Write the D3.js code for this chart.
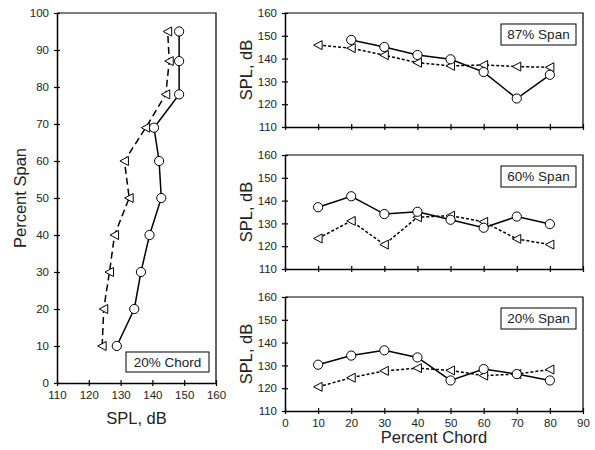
<!DOCTYPE html>
<html>
<head>
<meta charset="utf-8">
<script src="https://cdn.jsdelivr.net/npm/d3@7"></script>
<style>
  body { margin: 0; background: #fff; }
  svg text { font-family: "Liberation Sans", Arial, Helvetica, sans-serif; fill: #222; }
</style>
</head>
<body>
<div id="chart"></div>
<script>
// left panel: SPL vs percent span at 20% chord
const spanLevels = [10, 20, 30, 40, 50, 60, 69, 78, 87, 95];
const chordCircle = [128.8, 134.3, 136.4, 139.1, 142.8, 142.1, 140.5, 148.4, 148.4, 148.4];
const chordTri = [124.2, 124.7, 126.5, 128.1, 132.7, 131.2, 137.9, 144.2, 145.3, 144.8];

// right panels: SPL vs percent chord
const chordPct = [10, 20, 30, 40, 50, 60, 70, 80];
const span87Circle = [null, 148.2, 145.1, 141.6, 139.7, 134.1, 122.5, 132.9];
const span87Tri = [145.9, 144.6, 141.5, 138.2, 136.8, 137.2, 136.5, 136.2];
const span60Circle = [137.1, 141.9, 134.1, 135.1, 131.6, 128.1, 133.0, 129.7];
const span60Tri = [123.4, 131.1, 120.7, 132.7, 133.4, 130.7, 123.2, 120.7];
const span20Circle = [130.3, 134.3, 136.6, 133.5, 123.4, 128.4, 126.2, 123.4];
const span20Tri = [120.6, 124.6, 127.6, 128.8, 127.8, 125.5, 126.2, 128.2];

const panelLabels = ["87% Span", "60% Span", "20% Span"];
const splTicks = [110, 120, 130, 140, 150, 160];
const spanTicks = [0, 10, 20, 30, 40, 50, 60, 70, 80, 90, 100];
const chordTicks = [0, 10, 20, 30, 40, 50, 60, 70, 80, 90];

const svg = d3.select("#chart").append("svg").attr("width", 595).attr("height", 450);

const triPath = "M-4.5,0L4,-4.5L4,4.5Z";

// cross ticks: make tick lines go through the axis
function crossX(g) { g.selectAll(".tick line").attr("y1", -3).attr("y2", 3); }
function crossY(g) { g.selectAll(".tick line").attr("x1", 3).attr("x2", -3); }

function styleAxis(g) {
  g.select(".domain").attr("stroke", "#000").attr("stroke-width", 1.5);
  g.selectAll(".tick line").attr("stroke", "#000").attr("stroke-width", 1.2);
  g.selectAll(".tick text").attr("font-size", 11.5).attr("fill", "#222")
    .attr("font-family", "Liberation Sans, Arial, sans-serif");
}

function drawBox(g, w, h) {
  g.append("path").attr("d", `M0,0H${w}V${h}`).attr("fill", "none").attr("stroke", "#000").attr("stroke-width", 1.2);
}

function legendBox(g, x, y, w, h, label) {
  g.append("rect").attr("x", x).attr("y", y).attr("width", w).attr("height", h)
    .attr("fill", "#fff").attr("stroke", "#000").attr("stroke-width", 1);
  g.append("text").attr("x", x + w / 2).attr("y", y + h / 2).attr("dy", "0.36em")
    .attr("text-anchor", "middle").attr("font-size", 13.5).text(label);
}

// ---------- left panel ----------
{
  const L = { x: 57, y: 13, w: 159, h: 370 };
  const g = svg.append("g").attr("transform", `translate(${L.x},${L.y})`);
  const x = d3.scaleLinear().domain([110, 160]).range([0, L.w]);
  const y = d3.scaleLinear().domain([0, 100]).range([L.h, 0]);

  drawBox(g, L.w, L.h);
  g.append("g").call(d3.axisLeft(y).tickValues(spanTicks).tickSize(3).tickPadding(5).tickSizeOuter(0))
    .call(crossY).call(styleAxis);
  g.append("g").attr("transform", `translate(0,${L.h})`)
    .call(d3.axisBottom(x).tickValues(splTicks).tickSize(3).tickPadding(5).tickSizeOuter(0))
    .call(crossX).call(styleAxis);

  const triLine = d3.line().x(d => x(d[0])).y(d => y(d[1]));
  const tri = chordTri.map((v, i) => [v, spanLevels[i]]);
  const cir = chordCircle.map((v, i) => [v, spanLevels[i]]);

  g.append("path").attr("d", triLine(tri)).attr("fill", "none").attr("stroke", "#000")
    .attr("stroke-width", 1.5).attr("stroke-dasharray", "7,4");
  g.append("path").attr("d", triLine(cir)).attr("fill", "none").attr("stroke", "#000").attr("stroke-width", 1.5);

  g.selectAll(".tri").data(tri).join("path").attr("class", "tri")
    .attr("transform", d => `translate(${x(d[0])},${y(d[1])})`)
    .attr("d", triPath).attr("fill", "#fff").attr("stroke", "#000").attr("stroke-width", 1);
  g.selectAll(".cir").data(cir).join("circle").attr("class", "cir")
    .attr("cx", d => x(d[0])).attr("cy", d => y(d[1])).attr("r", 4.6)
    .attr("fill", "#fff").attr("stroke", "#000").attr("stroke-width", 1);

  legendBox(g, 126 - L.x, 352 - L.y, 83, 20, "20% Chord");

  svg.append("text").attr("transform", `translate(26,${L.y + L.h / 2}) rotate(-90)`)
    .attr("text-anchor", "middle").attr("font-size", 16.5).text("Percent Span");
  svg.append("text").attr("x", L.x + L.w / 2).attr("y", 424)
    .attr("text-anchor", "middle").attr("font-size", 16.5).text("SPL, dB");
}

// ---------- right panels ----------
const panels = [
  { top: 13, circ: span87Circle, tri: span87Tri },
  { top: 155, circ: span60Circle, tri: span60Tri },
  { top: 297, circ: span20Circle, tri: span20Tri }
];
const R = { x: 285, w: 298, h: 114 };

panels.forEach((p, k) => {
  const g = svg.append("g").attr("transform", `translate(${R.x},${p.top})`);
  const x = d3.scaleLinear().domain([0, 90]).range([0, R.w]);
  const y = d3.scaleLinear().domain([110, 160]).range([R.h, 0]);

  drawBox(g, R.w, R.h);
  g.append("g").call(d3.axisLeft(y).tickValues(splTicks).tickSize(3).tickPadding(5).tickSizeOuter(0))
    .call(crossY).call(styleAxis);
  const xa = g.append("g").attr("transform", `translate(0,${R.h})`)
    .call(d3.axisBottom(x).tickValues(chordTicks).tickSize(3).tickPadding(5).tickSizeOuter(0))
    .call(crossX).call(styleAxis);
  if (k < 2) xa.selectAll(".tick text").remove();

  const line = d3.line().defined(d => d[1] != null).x(d => x(d[0])).y(d => y(d[1]));
  const tri = p.tri.map((v, i) => [chordPct[i], v]);
  const cir = p.circ.map((v, i) => [chordPct[i], v]);

  g.append("path").attr("d", line(tri)).attr("fill", "none").attr("stroke", "#000")
    .attr("stroke-width", 1.5).attr("stroke-dasharray", "3,2");
  g.append("path").attr("d", line(cir)).attr("fill", "none").attr("stroke", "#000").attr("stroke-width", 1.5);

  g.selectAll(".tri").data(tri.filter(d => d[1] != null)).join("path").attr("class", "tri")
    .attr("transform", d => `translate(${x(d[0])},${y(d[1])})`)
    .attr("d", triPath).attr("fill", "#fff").attr("stroke", "#000").attr("stroke-width", 1);
  g.selectAll(".cir").data(cir.filter(d => d[1] != null)).join("circle").attr("class", "cir")
    .attr("cx", d => x(d[0])).attr("cy", d => y(d[1])).attr("r", 4.6)
    .attr("fill", "#fff").attr("stroke", "#000").attr("stroke-width", 1);

  legendBox(g, 216, 11, 75, 21, panelLabels[k]);

  svg.append("text").attr("transform", `translate(252,${p.top + R.h / 2}) rotate(-90)`)
    .attr("text-anchor", "middle").attr("font-size", 16.5).text("SPL, dB");
});

svg.append("text").attr("x", R.x + R.w / 2).attr("y", 443)
  .attr("text-anchor", "middle").attr("font-size", 16.5).text("Percent Chord");
</script>
</body>
</html>
